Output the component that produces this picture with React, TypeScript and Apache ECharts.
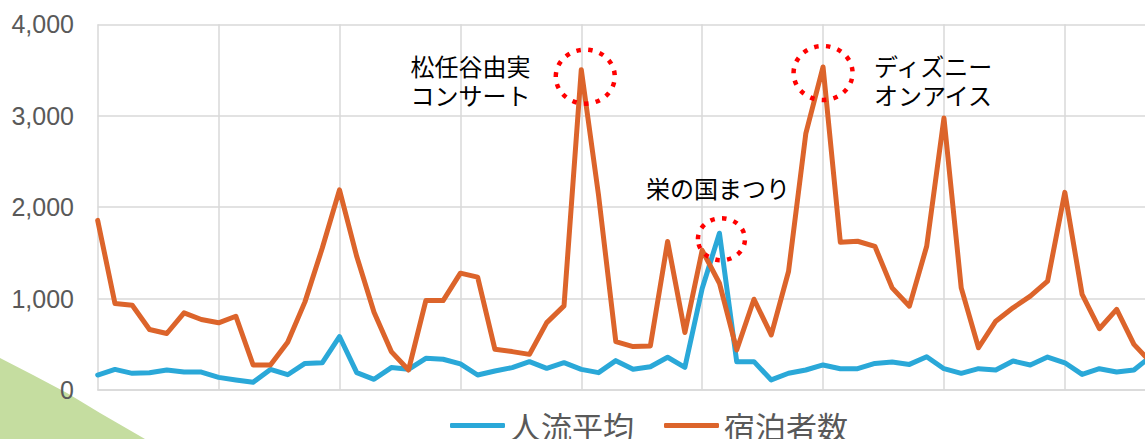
import React, { useEffect, useRef } from "react";
import * as echarts from "echarts";

// Daily series (62 days visible)
const peopleFlow = [
  164, 225, 182, 189, 218, 196, 196, 138, 109, 84,
  225, 167, 291, 298, 585, 190, 117, 245, 226, 347,
  336, 285, 164, 208, 245, 310, 237, 299, 226, 190,
  321, 226, 255, 358, 248, 1110, 1715, 310, 310, 110,
  183, 219, 274, 233, 233, 291, 306, 280, 364, 233,
  182, 233, 218, 317, 273, 360, 298, 171, 233, 197,
  218, 370,
];
const stays = [
  1855, 945, 927, 662, 618, 844, 771, 735, 807, 273,
  273, 522, 964, 1550, 2189, 1460, 850, 420, 219, 978,
  978, 1278, 1234, 445, 420, 390, 737, 920, 3504, 2130,
  529, 475, 482, 1624, 628, 1528, 1168, 438, 993, 602,
  1296, 2803, 3533, 1616, 1627, 1572, 1117, 917, 1572, 2974,
  1117, 462, 753, 899, 1026, 1190, 2162, 1045, 670, 881,
  499, 300,
];
const days = peopleFlow.map((_, i) => `${i + 1}日目`);
const seriesNames = ["人流平均", "宿泊者数"];
const yMin = 0;
const yMax = 4000;
const yStep = 1000;

// Highlighted events: which series and which day
const eventSeries = [1, 0, 1];
const eventDays = [28, 36, 42];
const eventLabels = [
  ["松任谷由実", "コンサート"],
  ["栄の国まつり"],
  ["ディズニー", "オンアイス"],
];

const BLUE = "#2AA8D8";
const ORANGE = "#DC642B";
const GRID = "#D9D9D9";
const GRAY = "#595959";
const JP = "'Noto Sans CJK JP', 'Noto Sans', sans-serif";

export default function App() {
  const ref = useRef<HTMLDivElement>(null);

  useEffect(() => {
    if (!ref.current) return;
    const chart = echarts.init(ref.current, undefined, { renderer: "svg" });
    const seriesData = [peopleFlow, stays];
    chart.setOption({
      animation: false,
      backgroundColor: "#ffffff",
      grid: { left: 97.7, right: 18.8, top: 24.3, bottom: 49, containLabel: false },
      legend: {
        data: seriesNames,
        left: 450,
        top: 410,
        padding: 0,
        itemWidth: 55,
        itemHeight: 5,
        itemGap: 30,
        icon: "roundRect",
        textStyle: { fontSize: 31, color: GRAY, fontFamily: JP },
      },
      xAxis: {
        type: "category",
        data: days,
        boundaryGap: false,
        axisLine: { show: true, lineStyle: { color: GRID, width: 1.5 } },
        axisTick: { show: false },
        axisLabel: { show: false },
        splitLine: { show: true, interval: 6, lineStyle: { color: GRID, width: 1.5 } },
      },
      yAxis: {
        type: "value",
        min: yMin,
        max: yMax,
        interval: yStep,
        axisLine: { show: false },
        axisTick: { show: false },
        axisLabel: {
          fontSize: 25,
          color: GRAY,
          fontFamily: "'Liberation Sans', Arial, sans-serif",
          margin: 23.7,
          formatter: (v: number) => v.toLocaleString("en-US"),
        },
        splitLine: { show: true, lineStyle: { color: GRID, width: 1.5 } },
      },
      series: [
        {
          name: seriesNames[0],
          type: "line",
          data: peopleFlow,
          symbol: "none",
          itemStyle: { color: BLUE },
          lineStyle: { color: BLUE, width: 5, cap: "round", join: "round" },
        },
        {
          name: seriesNames[1],
          type: "line",
          data: stays,
          symbol: "none",
          itemStyle: { color: ORANGE },
          lineStyle: { color: ORANGE, width: 5, cap: "round", join: "round" },
        },
      ],
    });

    // Dotted highlight rings placed from the data through the chart's scales
    const ringOffsets = [
      [4, 7, 29.5, 27],
      [2, 6, 23.5, 21],
      [0, 6, 29.5, 27],
    ];
    const rings = eventDays.map((d, k) => {
      const s = eventSeries[k];
      const p = chart.convertToPixel({ seriesIndex: s }, [d, seriesData[s][d]]) as number[];
      const [dx, dy, rx, ry] = ringOffsets[k];
      return {
        type: "ellipse",
        z: 100,
        shape: { cx: p[0] + dx, cy: p[1] + dy, rx, ry },
        style: { fill: "none", stroke: "#FF0000", lineWidth: 4.5, lineDash: [4.5, 7.3] },
        silent: true,
      };
    });
    const labelPos = [
      [410.5, 65],
      [646, 187],
      [874, 65],
    ];
    const texts: any[] = [];
    eventLabels.forEach((lines, k) => {
      lines.forEach((t, j) => {
        texts.push({
          type: "text",
          z: 100,
          x: labelPos[k][0],
          y: labelPos[k][1] + j * 29,
          silent: true,
          style: {
            text: t,
            fill: "#000000",
            font: `24px ${JP}`,
            verticalAlign: "middle",
            align: "left",
          },
        });
      });
    });

    chart.setOption({
      graphic: [
        {
          type: "polygon",
          z: -10,
          silent: true,
          shape: {
            points: [
              [0, 358],
              [33, 375],
              [67, 393],
              [100, 413],
              [145, 439],
              [0, 439],
            ],
          },
          style: { fill: "#C5DDA0" },
        },
        ...rings,
        ...texts,
      ],
    });

    return () => chart.dispose();
  }, []);

  return (
    <div
      style={{
        position: "fixed",
        left: 0,
        top: 0,
        width: 1145,
        height: 439,
        overflow: "hidden",
        background: "#ffffff",
      }}
    >
      <div ref={ref} style={{ width: 1170, height: 439 }} />
    </div>
  );
}
